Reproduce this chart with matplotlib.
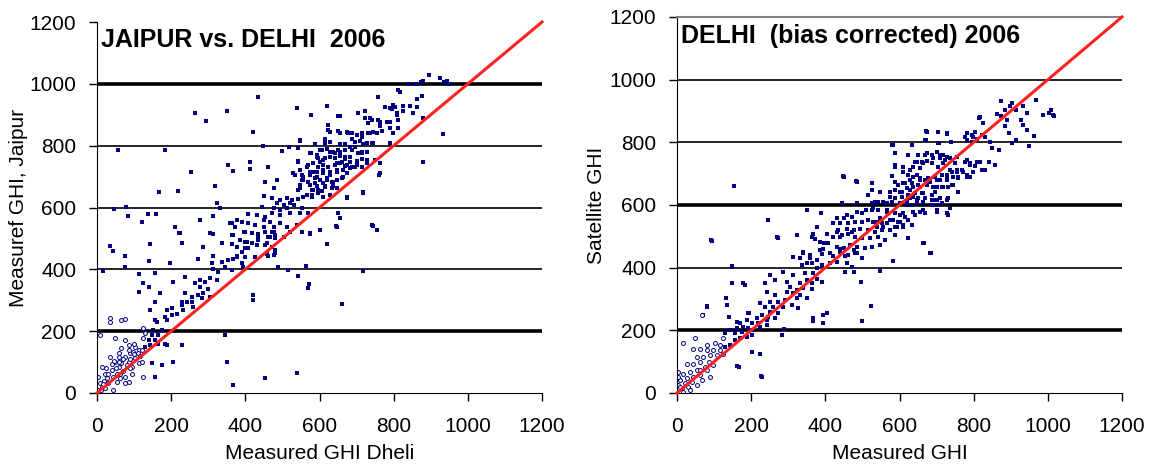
import numpy as np
import matplotlib
matplotlib.use('Agg')
import matplotlib.pyplot as plt

plt.rcParams['font.family'] = ['Liberation Sans', 'DejaVu Sans']

# axis ticks shared by both panels
ticks = [0, 200, 400, 600, 800, 1000, 1200]
diag = [0, 1200]

# Left panel: Measured GHI Delhi (x) vs measured GHI Jaipur (y)
jaipur_pts = [
    (224, 518), (314, 514), (363, 511), (397, 522), (417, 518), (435, 514), (460, 503), (471, 522), (480, 511),
    (35, 476), (143, 482), (228, 486), (287, 473), (336, 484), (363, 482), (399, 489), (417, 484), (435, 495),
    (453, 478), (471, 473), (44, 460), (76, 444), (314, 443), (377, 443), (390, 457), (408, 468), (462, 443),
    (480, 452), (139, 428), (197, 419), (273, 435), (309, 419), (336, 425), (354, 430), (368, 435), (390, 419),
    (426, 441), (458, 449), (487, 408), (76, 406), (17, 394), (314, 400), (327, 392), (345, 408), (363, 398),
    (395, 408), (156, 389), (112, 385), (206, 360), (237, 376), (264, 355), (278, 365), (291, 360), (305, 371),
    (323, 365), (278, 344), (300, 338), (125, 355), (139, 344), (112, 328), (170, 322), (156, 295), (237, 322),
    (255, 311), (273, 317), (287, 322), (305, 311), (228, 295), (242, 295), (255, 295), (282, 306), (260, 279),
    (228, 284), (233, 270), (201, 274), (188, 268), (215, 257), (201, 252), (188, 236), (156, 236), (161, 230),
    (143, 268), (183, 245), (422, 317), (422, 301), (345, 187), (228, 155), (206, 101), (350, 101), (368, 26),
    (453, 47), (125, 209), (152, 204), (174, 204), (147, 187), (165, 187), (129, 193), (125, 177), (139, 171),
    (156, 171), (165, 160), (183, 160), (188, 155), (143, 155),
    (35, 241), (66, 236), (76, 238), (35, 231), (8, 187), (48, 177), (76, 173), (85, 155), (103, 150), (112, 139),
    (89, 128), (76, 117), (58, 117), (35, 117), (48, 101), (66, 96), (85, 101), (94, 85), (58, 85), (40, 74),
    (22, 63), (44, 53), (62, 63), (76, 53), (53, 37), (31, 31), (13, 20), (4, 9), (22, 15), (44, 9), (103, 112),
    (112, 96), (121, 101), (125, 53), (156, 53), (147, 96), (174, 90), (94, 63), (76, 31), (13, 85), (4, 53),
    (8, 31), (26, 47), (66, 144), (98, 134), (62, 47), (85, 37), (20, 40), (30, 60), (50, 80), (60, 100),
    (70, 110), (80, 90), (90, 110), (100, 125), (110, 130), (40, 95), (25, 80), (15, 30), (10, 10), (55, 60),
    (70, 70), (90, 80), (115, 120), (120, 140), (130, 150), (100, 160), (85, 140), (60, 130), (45, 105),
    (435, 956), (619, 928), (576, 899), (539, 921), (651, 896), (705, 905), (723, 913), (759, 958), (817, 975),
    (777, 926), (799, 931), (826, 928), (844, 928), (862, 926), (876, 961), (862, 950), (880, 888), (795, 917),
    (808, 907), (826, 913), (851, 907), (723, 888), (741, 883), (763, 878), (790, 878), (813, 883), (624, 867),
    (628, 845), (655, 840), (673, 845), (687, 840), (700, 834), (714, 829), (732, 840), (745, 845), (754, 840),
    (799, 842), (813, 856), (422, 845), (548, 816), (588, 807), (615, 820), (628, 813), (655, 807), (669, 807),
    (687, 820), (696, 813), (718, 807), (727, 810), (743, 810), (447, 799), (498, 783), (519, 795), (543, 791),
    (576, 777), (601, 786), (619, 788), (628, 781), (642, 777), (655, 781), (669, 786), (681, 797), (696, 795),
    (714, 781), (727, 754), (750, 754), (880, 748), (413, 748), (543, 748), (565, 732), (592, 764), (601, 748),
    (615, 759), (628, 764), (642, 759), (646, 743), (660, 748), (669, 764), (673, 737), (682, 748), (687, 732),
    (700, 737), (714, 732), (597, 732), (610, 721), (583, 716), (628, 716), (646, 721), (664, 721), (673, 710),
    (366, 718), (413, 723), (462, 732), (548, 721), (534, 705), (556, 700), (574, 705), (594, 698), (619, 694),
    (633, 684), (646, 689), (660, 694), (485, 689), (453, 684), (552, 689), (570, 684), (588, 678), (610, 678),
    (633, 662), (646, 662), (476, 662), (548, 662), (579, 657), (597, 657), (615, 667), (579, 640), (597, 646),
    (628, 640), (556, 635), (718, 648), (673, 632), (449, 637), (471, 630), (494, 624), (512, 630), (525, 624),
    (543, 626), (485, 613), (503, 608), (521, 613), (530, 608), (444, 603), (476, 597), (494, 592), (512, 597),
    (552, 597), (408, 579), (431, 576), (453, 570), (471, 581), (494, 576), (521, 581), (548, 581), (570, 581),
    (651, 581), (655, 565), (377, 560), (390, 554), (408, 549), (426, 543), (449, 538), (467, 554), (476, 538),
    (494, 549), (512, 538), (539, 543), (449, 560), (363, 551), (372, 538), (399, 522), (417, 516), (435, 506),
    (453, 522), (467, 506), (476, 522), (503, 506), (521, 522), (552, 522), (574, 516), (601, 527), (646, 538),
    (745, 540), (368, 511), (386, 495), (404, 490), (417, 484), (431, 479), (458, 484), (480, 500), (480, 463),
    (574, 514), (619, 482), (377, 473), (399, 468), (377, 441), (399, 441), (458, 452), (476, 446), (359, 549),
    (812, 981), (818, 975), (840, 1000), (860, 1000), (880, 1010), (895, 1030), (925, 1020), (935, 1005),
    (945, 1010), (950, 1000), (875, 1005), (932, 838), (57, 785), (183, 787), (253, 714), (167, 649), (219, 652),
    (45, 596), (77, 602), (84, 574), (122, 552), (138, 579), (158, 579), (209, 538), (351, 912), (265, 905),
    (294, 879), (354, 736), (317, 669), (324, 615), (313, 571), (333, 598), (277, 561), (306, 518), (220, 518),
    (717, 396), (662, 288), (568, 340), (572, 352), (564, 410), (541, 380), (538, 65), (514, 399), (741, 542),
    (756, 528), (717, 649), (760, 706), (675, 634), (644, 539),
    (621, 929), (654, 896), (790, 921), (804, 926), (808, 899), (736, 889), (759, 883), (781, 878), (732, 873),
    (763, 862), (790, 856), (624, 851), (651, 846), (678, 840), (700, 835), (714, 840), (736, 840), (768, 846),
    (687, 821), (709, 816), (741, 810), (615, 808), (547, 819), (790, 810), (606, 786), (637, 778), (651, 786),
    (687, 786), (705, 775), (727, 781), (574, 775), (592, 770), (543, 749), (597, 759), (610, 754), (628, 763),
    (655, 765), (669, 756), (682, 763), (700, 749), (714, 756), (727, 743), (763, 743), (570, 738), (583, 743),
    (597, 732), (610, 738), (624, 732), (642, 738), (655, 743), (669, 735), (682, 727), (696, 732), (529, 711),
    (552, 705), (574, 716), (592, 716), (610, 711), (628, 705), (646, 716), (664, 700), (588, 695), (556, 689),
    (601, 689), (619, 689), (637, 684), (547, 673), (574, 673), (592, 668), (615, 668), (543, 657), (583, 657),
    (606, 652), (637, 668), (565, 641), (579, 635), (610, 635), (763, 711), (714, 775),
]

# Right panel: measured GHI (x) vs bias corrected satellite GHI (y), Delhi
delhi_pts = [
    (94, 486), (147, 403), (271, 497), (323, 504), (366, 507), (372, 491), (397, 480), (431, 515), (444, 504),
    (471, 515), (395, 461), (440, 461), (476, 456), (341, 448), (390, 443), (422, 437), (453, 437), (314, 433),
    (359, 430), (377, 424), (485, 446), (336, 408), (350, 414), (363, 414), (390, 408), (413, 414), (431, 419),
    (458, 414), (471, 403), (476, 387), (453, 387), (377, 398), (287, 387), (251, 376), (314, 376), (345, 382),
    (368, 382), (390, 355), (377, 363), (363, 350), (350, 360), (332, 350), (296, 355), (264, 360), (179, 352),
    (147, 350), (237, 350), (305, 339), (323, 328), (341, 334), (363, 331), (242, 323), (264, 313), (296, 323),
    (314, 318), (332, 313), (350, 302), (323, 302), (291, 297), (273, 291), (251, 291), (224, 286), (237, 275),
    (260, 275), (287, 275), (309, 281), (327, 270), (251, 259), (273, 254), (246, 243), (264, 238), (228, 249),
    (215, 238), (242, 233), (192, 254), (188, 233), (201, 224), (219, 222), (170, 222), (161, 227), (179, 211),
    (192, 206), (206, 201), (161, 206), (143, 201), (130, 190), (156, 190), (174, 196), (224, 211), (242, 217),
    (289, 203), (282, 185), (139, 243), (134, 281), (80, 273), (67, 249), (368, 238), (395, 222), (404, 254),
    (224, 126), (228, 52), (166, 84), (49, 177), (17, 160), (80, 153), (103, 158), (116, 153), (125, 174),
    (116, 137), (98, 137), (80, 137), (62, 142), (44, 142), (89, 121), (71, 116), (53, 116), (107, 121),
    (125, 126), (85, 100), (62, 100), (44, 94), (26, 94), (98, 89), (76, 84), (53, 73), (35, 68), (17, 62),
    (62, 57), (44, 52), (26, 47), (8, 41), (40, 36), (22, 31), (4, 25), (67, 41), (53, 25), (31, 20), (13, 15),
    (2, 52), (4, 68), (62, 73), (80, 73), (89, 52), (35, 9), (17, 4), (8, 20), (130, 148), (143, 153),
    (156, 169), (170, 174), (188, 180), (201, 185),
    (817, 880), (862, 890), (672, 837), (705, 834), (729, 831), (781, 831), (804, 834), (822, 823), (799, 818),
    (831, 818), (844, 802), (672, 807), (707, 799), (738, 802), (781, 807), (795, 802), (849, 781), (840, 738),
    (858, 728), (867, 775), (579, 791), (588, 767), (624, 760), (651, 760), (673, 765), (687, 760), (700, 770),
    (718, 760), (727, 754), (709, 749), (723, 744), (642, 738), (660, 738), (673, 741), (687, 733), (691, 749),
    (777, 738), (790, 728), (804, 724), (817, 738), (822, 712), (831, 712), (750, 733), (754, 712), (768, 712),
    (741, 706), (727, 696), (714, 696), (745, 690), (759, 688), (781, 696), (790, 688), (449, 690), (485, 674),
    (525, 671), (579, 693), (588, 722), (610, 706), (628, 712), (646, 696), (655, 685), (669, 680), (682, 674),
    (700, 680), (628, 680), (615, 669), (597, 664), (588, 648), (601, 642), (619, 653), (637, 658), (655, 658),
    (673, 664), (691, 658), (714, 658), (732, 658), (727, 680), (745, 664), (525, 648), (547, 642), (516, 632),
    (574, 627), (588, 621), (606, 627), (624, 632), (637, 627), (651, 621), (660, 637), (669, 621), (687, 616),
    (700, 616), (732, 621), (696, 642), (444, 605), (485, 605), (525, 605), (543, 611), (565, 605), (579, 611),
    (601, 605), (619, 611), (633, 600), (646, 605), (664, 605), (687, 600), (700, 600), (655, 579), (669, 575),
    (727, 573), (565, 584), (588, 573), (601, 568), (615, 563), (642, 568), (529, 589), (511, 584), (498, 573),
    (485, 579), (471, 563), (458, 568), (449, 557), (431, 557), (422, 541), (440, 541), (462, 541), (480, 547),
    (498, 547), (516, 552), (538, 547), (552, 541), (565, 541), (583, 552), (601, 547), (624, 552), (435, 520),
    (458, 525), (476, 520), (493, 525), (516, 520), (534, 515), (552, 520), (574, 520), (592, 531), (610, 536),
    (377, 531), (404, 509), (422, 499), (440, 499), (462, 509), (480, 499), (498, 494), (520, 494), (543, 499),
    (561, 488), (588, 504), (664, 478), (363, 499), (386, 483), (408, 478), (431, 467), (449, 462), (467, 472),
    (485, 467), (507, 462), (525, 467), (547, 472), (386, 456), (413, 446), (440, 451), (462, 440), (480, 446),
    (498, 430), (682, 446), (341, 451), (359, 440), (332, 430),
    (904, 926), (914, 904), (933, 915), (943, 894), (968, 936), (928, 872), (933, 856), (943, 840), (963, 821),
    (948, 789), (914, 808), (904, 798), (894, 830), (884, 851), (889, 872), (874, 883), (988, 888), (1003, 894),
    (1013, 888), (1017, 883), (1008, 904), (884, 904), (825, 862), (815, 878), (874, 931), (899, 915),
    (153, 660), (91, 489), (272, 495), (148, 404), (148, 351), (133, 303), (82, 277), (69, 250), (193, 255),
    (183, 346), (245, 553), (351, 585), (388, 574), (447, 691), (484, 676), (523, 277), (499, 229), (548, 388),
    (497, 353), (395, 250), (368, 229), (283, 186), (202, 130), (227, 53), (163, 85), (583, 420), (684, 447),
    (667, 479), (622, 495), (583, 793), (588, 766), (731, 569), (701, 585),
    (673, 834), (727, 828), (777, 818), (795, 823), (808, 812), (669, 807), (705, 799), (633, 791), (579, 791),
    (624, 759), (651, 759), (669, 759), (709, 759), (736, 749), (754, 754), (781, 743), (790, 733), (808, 738),
    (646, 738), (664, 733), (687, 735), (718, 733), (588, 727), (610, 722), (637, 722), (655, 717), (705, 722),
    (736, 711), (727, 690), (754, 706), (772, 706), (799, 706), (759, 685), (781, 690), (624, 695), (637, 690),
    (655, 679), (678, 685), (696, 690), (709, 679), (610, 669), (633, 669), (588, 674), (651, 663), (673, 663),
    (700, 658), (718, 658), (741, 663), (759, 642), (574, 642), (606, 642), (628, 648), (642, 637), (664, 637),
    (687, 632), (709, 621), (727, 616), (628, 621), (646, 616), (664, 610), (696, 616), (714, 605), (534, 610),
    (556, 610), (579, 605), (601, 605), (619, 600), (525, 584), (543, 584), (565, 578), (588, 573), (610, 573),
    (637, 578), (664, 584), (700, 578), (736, 589), (547, 557), (574, 552), (597, 546), (624, 552), (529, 546),
    (556, 531), (588, 531), (610, 531), (633, 536), (538, 531),
]

jaipur = np.array(jaipur_pts, dtype=float)
delhi = np.array(delhi_pts, dtype=float)

navy = '#000080'
fig = plt.figure(figsize=(11.54, 4.66), dpi=100)

panels = [
    # (axes rect, points, title, title y, xlabel, ylabel, ylabel x, thick gridlines, top line)
    ([97 / 1154, 73 / 466, 445 / 1154, 371 / 466], jaipur,
     'JAIPUR vs. DELHI  2006', 0.985, 'Measured GHI Dheli', 'Measuref GHI, Jaipur', -0.155, [1000, 200], False),
    ([677 / 1154, 73 / 466, 445 / 1154, 376 / 466], delhi,
     'DELHI  (bias corrected) 2006', 0.982, 'Measured GHI', 'Satellite GHI', -0.16, [600, 200], True),
]

for rect, pts, title, ty, xlab, ylab, ylx, thick, topline in panels:
    ax = fig.add_axes(rect)
    for g in ticks[1:-1]:
        ax.axhline(g, color='black', lw=2.6 if g in thick else 1.2, zorder=1)

    low = (pts[:, 0] < 130) & (pts[:, 1] < 250)
    ax.scatter(pts[~low, 0], pts[~low, 1], marker='s', s=6, c=navy, linewidths=0, zorder=2)
    ax.scatter(pts[low, 0], pts[low, 1], marker='o', s=8, facecolors='white',
               edgecolors=navy, linewidths=0.7, zorder=2)

    ax.plot(diag, diag, color='#ff2020', lw=2.2, zorder=3, clip_on=False)

    ax.set_xlim(0, 1200)
    ax.set_ylim(0, 1200)
    ax.set_xticks(ticks)
    ax.set_yticks(ticks)
    ax.tick_params(direction='out', length=6, width=1, labelsize=15)
    ax.tick_params(axis='x', pad=11)
    ax.tick_params(axis='y', pad=9)
    ax.spines['right'].set_visible(False)
    if topline:
        ax.spines['top'].set_color('#808080')
        ax.spines['top'].set_linewidth(1.5)
    else:
        ax.spines['top'].set_visible(False)

    ax.set_xlabel(xlab, fontsize=15, labelpad=6)
    ax.set_ylabel(ylab, fontsize=15)
    ax.yaxis.set_label_coords(ylx, 0.5)
    ax.text(0.01, ty, title, transform=ax.transAxes, fontsize=18, fontweight='bold',
            ha='left', va='top')

plt.savefig('out.png', dpi=100)
